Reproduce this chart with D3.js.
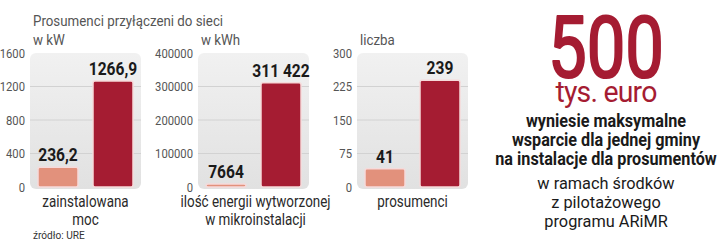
<!DOCTYPE html>
<html><head><meta charset="utf-8">
<script src="https://cdn.jsdelivr.net/npm/d3@7"></script>
<style>
html,body{margin:0;padding:0;background:#fff;}
svg{display:block;}
text{font-family:Roboto,"Noto Sans",sans-serif;}
</style></head>
<body>
<script>
// ---- data ----
const title = "Prosumenci przyłączeni do sieci";
const units = ["w kW", "w kWh", "liczba"];
const categoryLines = [["zainstalowana", "moc"], ["ilość energii wytworzonej", "w mikroinstalacji"], ["prosumenci"]];
const valuesBefore = [236.2, 7664, 41];
const valuesAfter = [1266.9, 311422, 239];
const labelsBefore = ["236,2", "7664", "41"];
const labelsAfter = ["1266,9", "311 422", "239"];
const yMax = [1600, 400000, 300];
const tickValues = [[0, 400, 800, 1200, 1600], [0, 100000, 200000, 300000, 400000], [0, 75, 150, 225, 300]];
const source = "źródło: URE";
const bigNumber = "500";
const bigUnit = "tys. euro";
const noteBold = ["wyniesie maksymalne", "wsparcie dla jednej gminy", "na instalacje dla prosumentów"];
const noteRegular = ["w ramach środków", "z pilotażowego", "programu ARiMR"];

// ---- layout ----
const W = 720, H = 241;
const panelX = [30, 198, 357], panelW = 111;
const plotTop = 53, plotBottom = 187, bgBottom = 189;
const colLight = "#e2917c", colDark = "#a51c32", red = "#a51c32";

const svg = d3.select("body").append("svg").attr("width", W).attr("height", H);
const defs = svg.append("defs");
const grad = defs.append("linearGradient").attr("id", "bg").attr("x1", 0).attr("y1", 0).attr("x2", 0).attr("y2", 1);
grad.append("stop").attr("offset", "0%").attr("stop-color", "#f1f1f1");
grad.append("stop").attr("offset", "100%").attr("stop-color", "#e1e1e1");

// condensed text helper
function ctext(parent, x, y, str, opts) {
  const g = parent.append("g").attr("transform", `translate(${x},${y}) scale(${opts.sx || 1},1)`);
  const t = g.append("text").text(str)
    .attr("text-anchor", opts.anchor || "start")
    .attr("font-size", opts.size)
    .attr("font-weight", opts.weight || 400)
    .attr("fill", opts.fill || "#222");
  if (opts.dy) t.attr("dy", opts.dy);
  if (opts.ls) t.attr("letter-spacing", opts.ls);
  if (opts.stroke) t.attr("stroke", opts.fill).attr("stroke-width", opts.stroke).attr("stroke-linejoin", "round");
  return t;
}

ctext(svg, 33, 26, title, {size: 15.5, fill: "#555", sx: 0.86});

for (let i = 0; i < 3; i++) {
  const x0 = panelX[i];
  const g = svg.append("g");
  const y = d3.scaleLinear().domain([0, yMax[i]]).range([plotBottom, plotTop]);
  const x = d3.scaleBand().domain([0, 1]).range([x0, x0 + panelW]).paddingInner(15 / 55).paddingOuter(8 / 55);

  g.append("rect").attr("x", x0).attr("y", plotTop).attr("width", panelW).attr("height", bgBottom - plotTop)
    .attr("rx", 6).attr("fill", "url(#bg)");

  // gridlines
  g.selectAll("line.grid").data(tickValues[i].filter(v => v > 0 && v < yMax[i])).join("line")
    .attr("x1", x0).attr("x2", x0 + panelW)
    .attr("y1", d => y(d)).attr("y2", d => y(d))
    .attr("stroke", "#d2d2d2").attr("stroke-width", 1);

  // axis labels
  const axis = d3.axisLeft(y).tickValues(tickValues[i]).tickSize(0).tickPadding(0).tickFormat(d3.format("d"));
  const ag = g.append("g").attr("transform", `translate(${x0 - 5},0)`).call(axis);
  ag.select(".domain").remove();
  ag.selectAll("text").attr("font-size", 12.5).attr("fill", "#555").attr("font-family", "Roboto")
    .attr("transform", "scale(0.9,1)").attr("x", 0).attr("dy", "0.35em");

  // unit
  ctext(svg, x0 + 3, 45, units[i], {size: 15.5, fill: "#555", sx: 0.86});

  // bars
  const vals = [valuesBefore[i], valuesAfter[i]];
  const labs = [labelsBefore[i], labelsAfter[i]];
  g.selectAll("rect.bar").data(vals).join("rect")
    .attr("x", (d, j) => x(j)).attr("width", x.bandwidth())
    .attr("y", d => Math.min(y(d), plotBottom - 3)).attr("height", d => Math.max(3, plotBottom - y(d)))
    .attr("rx", 2)
    .attr("fill", (d, j) => j === 0 ? colLight : colDark)
    .attr("stroke", "#f6dada").attr("stroke-width", 1.5);

  vals.forEach((v, j) => {
    ctext(g, x(j) + x.bandwidth() / 2, Math.min(y(v), plotBottom - 3) - 6, labs[j], {size: 19, weight: 700, anchor: "middle", fill: "#1a1a1a", sx: 0.82});
  });

  // category labels
  categoryLines[i].forEach((line, k) => {
    ctext(g, x0 + panelW / 2 + (i === 1 ? 2 : 0), 207 + k * 18, line, {size: 16, anchor: "middle", fill: "#2a2a2a", sx: 0.84});
  });
}

ctext(svg, 33, 239, source, {size: 11.5, fill: "#333", sx: 0.88});

// right side
const cx = 606;
ctext(svg, cx, 77, bigNumber, {size: 86, anchor: "middle", fill: red, sx: 0.8, weight: 400, stroke: 2.2});
ctext(svg, cx, 102, bigUnit, {size: 29, anchor: "middle", fill: red, sx: 0.98, ls: -0.8});
noteBold.forEach((s, k) => ctext(svg, cx, 127 + k * 19, s, {size: 18, weight: 700, anchor: "middle", fill: "#1a1a1a", sx: 0.9}));
noteRegular.forEach((s, k) => ctext(svg, cx, 189 + k * 19, s, {size: 17, anchor: "middle", fill: "#1a1a1a", sx: 0.96}));
</script>
</body></html>
